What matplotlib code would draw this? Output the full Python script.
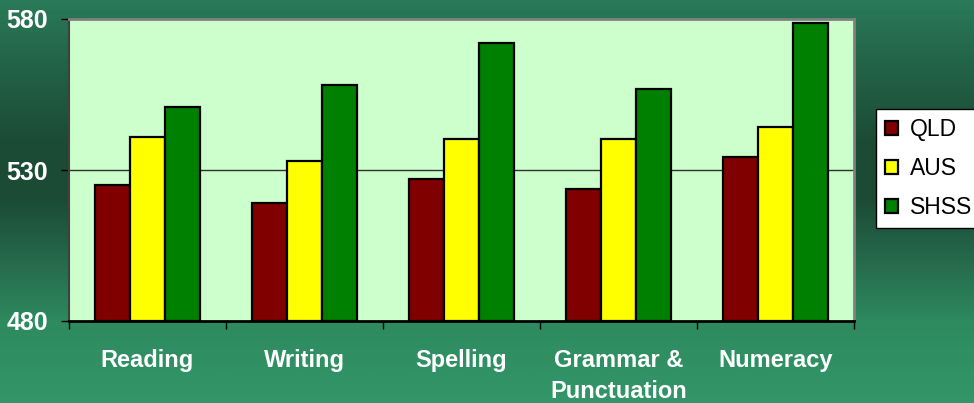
import numpy as np
import matplotlib
matplotlib.use("Agg")
import matplotlib.pyplot as plt
from matplotlib.colors import LinearSegmentedColormap

categories = ["Reading", "Writing", "Spelling", "Grammar &\nPunctuation", "Numeracy"]
series_names = ["QLD", "AUS", "SHSS"]
qld = [525.0, 519.1, 527.0, 523.7, 534.3]
aus = [541.0, 533.0, 540.3, 540.3, 544.2]
shss = [550.9, 558.1, 572.2, 556.8, 578.7]
series_colors = ["#800000", "#FFFF00", "#008000"]
yticks = [480, 530, 580]

W, H = 974, 403
fig = plt.figure(figsize=(W / 100, H / 100), dpi=100)

# background gradient
bg = fig.add_axes([0, 0, 1, 1], zorder=-10)
stops = [(0.0, (42, 122, 88)), (0.15, (35, 100, 72)), (0.36, (27, 74, 53)),
         (0.50, (28, 76, 54)), (0.67, (38, 110, 78)), (0.80, (46, 138, 95)),
         (1.0, (50, 150, 104))]
cmap = LinearSegmentedColormap.from_list(
    "bg", [(p, tuple(c / 255 for c in col)) for p, col in stops])
grad = np.linspace(0, 1, 400).reshape(-1, 1)
bg.imshow(grad, aspect="auto", cmap=cmap, extent=[0, 1, 1, 0])
bg.set_xlim(0, 1)
bg.set_ylim(1, 0)
bg.axis("off")

ax = fig.add_axes([69 / W, (H - 321) / H, (854 - 69) / W, 302 / H])
ax.set_facecolor("#CCFFCC")

n = len(categories)
x = np.arange(n)
bw = 1 / 4.5
for i, (vals, col, name) in enumerate(zip([qld, aus, shss], series_colors, series_names)):
    ax.bar(x + (i - 1) * bw, np.array(vals) - 480, bottom=480, width=bw,
           color=col, edgecolor="black", linewidth=1.6, label=name, zorder=3)

ax.set_xlim(-0.5, n - 0.5)
ax.set_ylim(480, 580)
ax.set_yticks(yticks)
ax.set_yticklabels([str(t) for t in yticks], color="white",
                   fontfamily="Liberation Sans", fontweight="bold", fontsize=18)
ax.set_xticks(np.arange(n + 1) - 0.5)
ax.set_xticklabels([])
ax.set_xticks(x, minor=True)
ax.set_xticklabels(categories, minor=True, color="white",
                   fontfamily="Liberation Sans", fontweight="bold", fontsize=17,
                   linespacing=1.48, va="top")
ax.tick_params(axis="x", which="minor", length=0, pad=20)
ax.tick_params(axis="x", which="major", length=6, width=1, color="black", direction="out")
ax.tick_params(axis="y", length=6, width=1, color="black", direction="out", pad=9)

ax.axhline(530, color="#303030", linewidth=1, zorder=1)
for s in ["top", "right"]:
    ax.spines[s].set_color("#808080")
    ax.spines[s].set_linewidth(2)
ax.spines["left"].set_color("#404040")
ax.spines["left"].set_linewidth(1.5)
ax.spines["bottom"].set_color("black")
ax.spines["bottom"].set_linewidth(2)

leg = fig.legend(loc="upper left", bbox_to_anchor=(876 / W, 1 - 109 / H),
                 bbox_transform=fig.transFigure, frameon=True, fancybox=False,
                 prop={"family": "Liberation Sans", "size": 16.5},
                 handlelength=0.57, handleheight=0.6, handletextpad=0.5,
                 labelspacing=0.7, borderpad=0.4, borderaxespad=0)
leg.get_frame().set_edgecolor("black")
leg.get_frame().set_linewidth(1)
leg.get_frame().set_facecolor("white")
leg.get_frame().set_alpha(1)

fig.savefig("out.png", dpi=100)
